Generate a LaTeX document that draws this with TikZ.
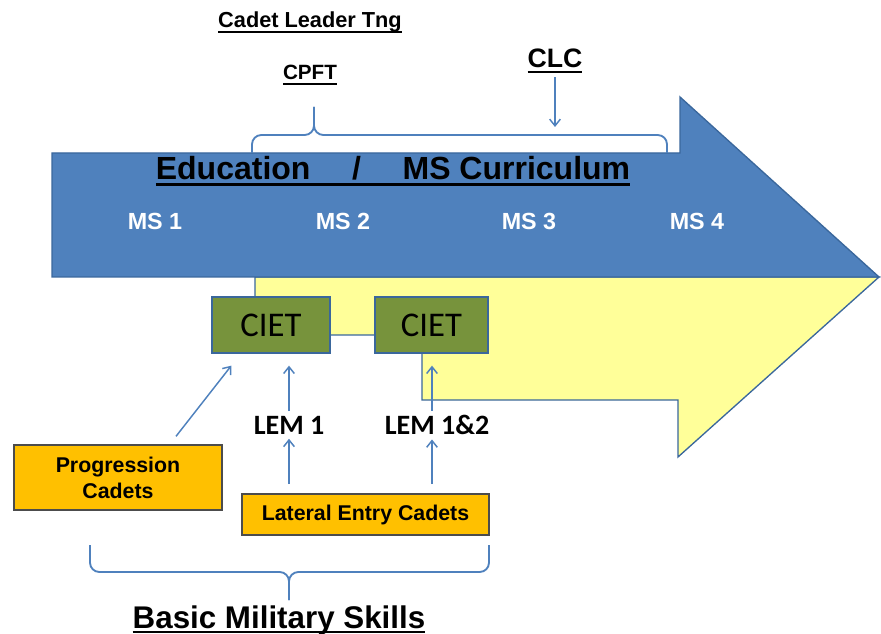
\documentclass[tikz,border=0pt]{standalone}
\usepackage{fontspec}
\setmainfont{Liberation Sans}
\newfontfamily\calibri{Carlito}
\usetikzlibrary{positioning,calc,arrows.meta}

\definecolor{msblue}{HTML}{4F81BD}
\definecolor{msborder}{HTML}{3A679C}
\definecolor{cietgreen}{HTML}{77933C}
\definecolor{cadetorange}{HTML}{FFC000}
\definecolor{paleyellow}{HTML}{FFFF99}

% underline with a thicker rule, just under the baseline
\newcommand{\ulbox}[2][1.5pt]{\leavevmode\setbox0\hbox{#2}\dp0=0pt\vtop{\copy0\kern2.2pt\hrule height #1}}

\begin{document}
\begin{tikzpicture}[x=0.75pt,y=-0.75pt,>={Straight Barb[length=5pt,width=8pt]},
	every node/.append style={font=\bfseries}]
    \tikzstyle{link}=[->,draw=msblue,line width=1.1pt]
    \tikzstyle{bracket}=[draw=msblue,line width=1.4pt,rounded corners=7pt]
    \tikzstyle{box}=[draw,line width=1pt,inner sep=0pt,align=center]
    \tikzstyle{ciet}=[box,fill=cietgreen,draw=msborder,minimum height=42pt,
        font=\calibri\fontsize{26}{30}\selectfont]
    \tikzstyle{cadets}=[box,fill=cadetorange,draw=black!70,
        font=\bfseries\fontsize{16}{19.5}\selectfont]
    \tikzstyle{ms label}=[text=white,font=\bfseries\fontsize{17.5}{20}\selectfont]
    \tikzstyle{lem}=[font=\calibri\bfseries\fontsize{21}{24}\selectfont]
    \tikzstyle{heading}=[anchor=base,inner sep=0pt]

    \useasboundingbox (0,0) rectangle (881,634);

    % Draw the two halves of the big arrow
    \filldraw[fill=paleyellow,draw=msborder,line width=1pt]
        (255,277) -- (879,277) -- (678,457) -- (678,400) -- (422,400)
        -- (422,335) -- (255,335) -- cycle;
    \filldraw[fill=msblue,draw=msborder,line width=1pt]
        (52,153) -- (680,153) -- (680,97) -- (879,277) -- (52,277) -- cycle;

    % Titles above the arrow
    \node[heading,font=\bfseries\fontsize{16.3}{19}\selectfont] (leader) at (310,28) {\ulbox[1.2pt]{Cadet Leader Tng}};
    \node[heading,font=\bfseries\fontsize{15.5}{19}\selectfont] (cpft) at (310,80) {\ulbox[1.2pt]{CPFT}};
    \node[heading,font=\bfseries\fontsize{20}{24}\selectfont] (clc) at (555,68) {\ulbox[1.4pt]{CLC}};
    \coordinate (clc-tip) at (555,127);
    \draw[link,shorten <=3pt] (clc) -- (clc-tip);

    % Bracket over the arrow
    \draw[bracket] (252,153) -- (252,135) -- (314,135) -- (314,107);
    \draw[bracket] (667,153) -- (667,135) -- (314,135) -- (314,107);

    % Text on the arrow
    \node[heading,font=\bfseries\fontsize{24}{28}\selectfont] (edu) at (393,180)
        {\ulbox[2pt]{Education\hspace{1.3em}/\hspace{1.3em}MS Curriculum}};
    \foreach \name / \x in {1/155,2/343,3/529,4/697}
        \node[ms label] (ms-\name) at (\x,221) {MS \name};

    % Draw the CIET boxes
    \node[ciet,minimum width=88.5pt] (ciet-1) at (271,325) {CIET};
    \node[ciet,minimum width=84.75pt] (ciet-2) at (431.5,325) {CIET};

    % Draw the cadet boxes and the LEM labels
    \node[lem] (lem-1) at (289,425) {LEM 1};
    \node[lem] (lem-2) at (437,425) {LEM 1\&2};
    \coordinate (lem-2-x) at (432,425);
    \node[cadets,minimum width=156pt,minimum height=48.75pt] (prog) at (118,477.5)
        {Progression\\Cadets};
    \node[cadets,minimum width=185.25pt,minimum height=30.75pt] (lateral) at (365.5,514.5)
        {Lateral Entry Cadets};

    % Connect the cadets with the CIET boxes
    \draw[link] ($(prog.north)+(58,-8)$) -- ($(ciet-1.south west)+(20,12)$);
    \draw[link,shorten >=9pt] (lem-1.north) -- (lem-1.north |- ciet-1.south);
    \draw[link,shorten <=7pt] (lateral.north -| lem-1) -- (lem-1.south);
    \draw[link,shorten >=9pt] (lem-2-x |- lem-2.north) -- (lem-2-x |- ciet-2.south);
    \draw[link,shorten <=7pt] (lem-2-x |- lateral.north) -- (lem-2-x |- lem-2.south);

    % Bracket under the cadets
    \draw[bracket] (90,545) -- (90,572) -- (289,572) -- (289,600);
    \draw[bracket] (489,545) -- (489,572) -- (289,572) -- (289,600);
    \node[heading,font=\bfseries\fontsize{23.5}{27}\selectfont] (bms) at (279,628)
        {\ulbox[1.4pt]{Basic Military Skills}};
\end{tikzpicture}
\end{document}
